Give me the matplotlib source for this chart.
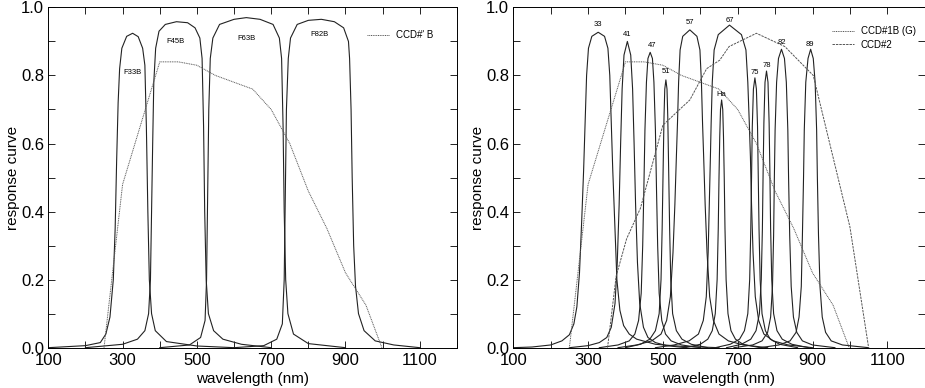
import matplotlib
matplotlib.use('Agg')
import matplotlib.pyplot as plt
from matplotlib.ticker import MultipleLocator, FixedLocator

plt.rcParams['font.family'] = ['Liberation Sans', 'DejaVu Sans']

# ---- left panel: broad filters (wavelength nm, response) ----
f33b_wl = [100, 200, 240, 255, 266, 275, 280, 284, 288, 292, 298, 311, 327, 342, 354, 360, 364, 368, 372, 378, 388, 418, 500, 600]
f33b_r  = [0.0, 0.006, 0.015, 0.04, 0.09, 0.2, 0.35, 0.55, 0.72, 0.82, 0.88, 0.915, 0.924, 0.914, 0.88, 0.83, 0.65, 0.4, 0.2, 0.1, 0.05, 0.018, 0.005, 0.0]

f45b_wl = [200, 300, 340, 360, 370, 375, 378, 381, 384, 389, 398, 415, 445, 475, 495, 508, 514, 518, 521, 525, 531, 545, 570, 620, 700]
f45b_r  = [0.0, 0.01, 0.025, 0.05, 0.1, 0.2, 0.4, 0.6, 0.78, 0.88, 0.93, 0.95, 0.958, 0.955, 0.94, 0.91, 0.85, 0.65, 0.4, 0.2, 0.1, 0.05, 0.025, 0.01, 0.0]

f63b_wl = [400, 480, 510, 522, 526, 529, 532, 536, 543, 561, 600, 633, 670, 705, 722, 728, 732, 735, 739, 745, 760, 800, 900]
f63b_r  = [0.0, 0.008, 0.03, 0.08, 0.2, 0.45, 0.7, 0.85, 0.91, 0.95, 0.965, 0.97, 0.965, 0.95, 0.91, 0.85, 0.65, 0.4, 0.2, 0.1, 0.04, 0.012, 0.0]

f82b_wl = [600, 680, 715, 730, 735, 738, 741, 746, 752, 770, 800, 835, 870, 895, 908, 911, 915, 918, 922, 927, 935, 950, 980, 1030, 1100]
f82b_r  = [0.0, 0.006, 0.025, 0.07, 0.2, 0.45, 0.7, 0.85, 0.91, 0.95, 0.962, 0.965, 0.958, 0.94, 0.9, 0.85, 0.7, 0.5, 0.3, 0.18, 0.1, 0.05, 0.02, 0.008, 0.0]

left_filters = [(f33b_wl, f33b_r), (f45b_wl, f45b_r), (f63b_wl, f63b_r), (f82b_wl, f82b_r)]
left_names = ['F33B', 'F45B', 'F63B', 'F82B']
left_label_x = [328, 443, 633, 830]
left_label_y = [0.81, 0.90, 0.91, 0.92]

# ---- CCD curves ----
ccd1_wl = [250, 300, 400, 450, 500, 550, 650, 700, 750, 800, 850, 900, 955, 998]
ccd1_r  = [0.0, 0.48, 0.84, 0.84, 0.83, 0.80, 0.76, 0.70, 0.60, 0.46, 0.35, 0.22, 0.125, 0.0]

ccd2_wl = [352, 375, 403, 440, 500, 572, 617, 652, 677, 750, 826, 902, 1000, 1050]
ccd2_r  = [0.0, 0.21, 0.32, 0.41, 0.654, 0.728, 0.82, 0.845, 0.885, 0.924, 0.885, 0.80, 0.355, 0.0]

# ---- right panel: narrower filters ----
n33_wl = [100, 150, 200, 230, 250, 262, 270, 277, 283, 288, 292, 296, 301, 310, 327, 344, 353, 358, 362, 366, 371, 377, 385, 395, 410, 430, 480, 550, 650]
n33_r  = [0.0, 0.002, 0.008, 0.02, 0.038, 0.07, 0.12, 0.22, 0.375, 0.52, 0.66, 0.8, 0.88, 0.915, 0.927, 0.915, 0.88, 0.8, 0.66, 0.52, 0.375, 0.2, 0.11, 0.065, 0.04, 0.025, 0.01, 0.004, 0.0]

n41_wl = [250, 300, 330, 350, 362, 372, 378, 383, 387, 391, 396, 405, 414, 419, 423, 427, 432, 438, 448, 460, 480, 510, 560]
n41_r  = [0.0, 0.006, 0.015, 0.03, 0.06, 0.13, 0.25, 0.42, 0.6, 0.76, 0.86, 0.90, 0.86, 0.76, 0.6, 0.42, 0.25, 0.13, 0.06, 0.03, 0.015, 0.006, 0.0]

n47_wl = [330, 380, 410, 425, 435, 442, 446, 449, 452, 456, 460, 466, 472, 476, 480, 483, 486, 490, 497, 507, 522, 550, 600]
n47_r  = [0.0, 0.008, 0.02, 0.04, 0.08, 0.16, 0.3, 0.46, 0.64, 0.78, 0.85, 0.868, 0.85, 0.78, 0.64, 0.46, 0.3, 0.16, 0.08, 0.04, 0.02, 0.008, 0.0]

n51_wl = [400, 440, 465, 480, 490, 495, 498, 501, 503, 505, 508, 511, 513, 515, 518, 521, 526, 536, 551, 576, 620]
n51_r  = [0.0, 0.01, 0.025, 0.05, 0.1, 0.2, 0.35, 0.55, 0.68, 0.76, 0.787, 0.76, 0.68, 0.55, 0.35, 0.2, 0.1, 0.05, 0.025, 0.01, 0.0]

n57_wl = [380, 430, 470, 495, 510, 520, 527, 532, 536, 539, 542, 546, 553, 572, 591, 599, 603, 606, 609, 613, 618, 625, 635, 650, 675, 715, 780]
n57_r  = [0.0, 0.008, 0.02, 0.04, 0.08, 0.15, 0.28, 0.42, 0.56, 0.66, 0.78, 0.875, 0.915, 0.934, 0.915, 0.875, 0.78, 0.66, 0.56, 0.42, 0.28, 0.15, 0.08, 0.04, 0.02, 0.008, 0.0]

n67_wl = [480, 530, 570, 595, 608, 616, 621, 624, 627, 629, 632, 637, 648, 678, 710, 722, 727, 731, 734, 737, 741, 747, 756, 770, 795, 835, 900]
n67_r  = [0.0, 0.008, 0.02, 0.04, 0.08, 0.15, 0.28, 0.42, 0.56, 0.66, 0.78, 0.875, 0.92, 0.948, 0.92, 0.875, 0.78, 0.66, 0.56, 0.42, 0.28, 0.15, 0.08, 0.04, 0.02, 0.008, 0.0]

nha_wl = [560, 600, 620, 632, 640, 645, 648, 650, 652, 654, 657, 660, 662, 664, 666, 669, 674, 682, 694, 714, 760]
nha_r  = [0.0, 0.01, 0.025, 0.05, 0.1, 0.2, 0.35, 0.5, 0.62, 0.7, 0.728, 0.7, 0.62, 0.5, 0.35, 0.2, 0.1, 0.05, 0.025, 0.01, 0.0]

n75_wl = [640, 680, 705, 718, 727, 732, 735, 737, 739, 742, 746, 750, 753, 755, 757, 760, 765, 774, 787, 812, 860]
n75_r  = [0.0, 0.01, 0.025, 0.05, 0.1, 0.2, 0.35, 0.5, 0.65, 0.76, 0.793, 0.76, 0.65, 0.5, 0.35, 0.2, 0.1, 0.05, 0.025, 0.01, 0.0]

n78_wl = [670, 710, 735, 749, 758, 763, 766, 768, 770, 773, 777, 781, 784, 786, 788, 791, 796, 805, 819, 845, 890]
n78_r  = [0.0, 0.01, 0.025, 0.05, 0.1, 0.2, 0.35, 0.52, 0.66, 0.78, 0.813, 0.78, 0.66, 0.52, 0.35, 0.2, 0.1, 0.05, 0.025, 0.01, 0.0]

n82_wl = [690, 740, 765, 780, 788, 793, 796, 798, 800, 804, 809, 817, 825, 830, 834, 836, 839, 843, 849, 858, 873, 900, 960]
n82_r  = [0.0, 0.008, 0.02, 0.045, 0.09, 0.18, 0.33, 0.5, 0.64, 0.78, 0.85, 0.877, 0.85, 0.78, 0.64, 0.5, 0.33, 0.18, 0.09, 0.045, 0.02, 0.008, 0.0]

n89_wl = [760, 810, 840, 856, 864, 870, 873, 876, 878, 882, 888, 895, 902, 907, 911, 913, 916, 920, 926, 935, 950, 980, 1050]
n89_r  = [0.0, 0.008, 0.02, 0.045, 0.09, 0.18, 0.33, 0.5, 0.64, 0.78, 0.85, 0.877, 0.85, 0.78, 0.64, 0.5, 0.33, 0.18, 0.09, 0.045, 0.02, 0.008, 0.0]

right_filters = [(n33_wl, n33_r), (n41_wl, n41_r), (n47_wl, n47_r), (n51_wl, n51_r),
                 (n57_wl, n57_r), (n67_wl, n67_r), (nha_wl, nha_r), (n75_wl, n75_r),
                 (n78_wl, n78_r), (n82_wl, n82_r), (n89_wl, n89_r)]
right_names = ['33', '41', '47', '51', '57', '67', 'Ha', '75', '78', '82', '89']
right_label_x = [327, 405, 470, 508, 572, 678, 657, 746, 779, 818, 893]
right_label_y = [0.951, 0.919, 0.887, 0.813, 0.956, 0.963, 0.745, 0.808, 0.828, 0.896, 0.89]

fig = plt.figure(figsize=(9.25, 3.88), dpi=100)
ax1 = fig.add_axes([0.0522, 0.1039, 0.4418, 0.877])
ax2 = fig.add_axes([0.5549, 0.1039, 0.4448, 0.877])

fcol = '#222222'
ccol = '#555555'

def style(ax):
    ax.set_xlim(100, 1200)
    ax.set_ylim(0, 1.0)
    ax.xaxis.set_major_locator(FixedLocator([100, 300, 500, 700, 900, 1100]))
    ax.xaxis.set_minor_locator(FixedLocator([200, 400, 600, 800, 1000, 1200]))
    ax.yaxis.set_major_locator(MultipleLocator(0.2))
    ax.yaxis.set_minor_locator(MultipleLocator(0.1))
    ax.yaxis.set_major_formatter(plt.FormatStrFormatter('%.1f'))
    ax.tick_params(which='both', direction='in', top=True, right=True, labelsize=12, width=0.6)
    ax.tick_params(which='major', length=5)
    ax.tick_params(axis='x', which='major', pad=4)
    ax.tick_params(axis='y', which='major', pad=3)
    ax.tick_params(which='minor', length=5)
    for s in ax.spines.values():
        s.set_linewidth(0.7)
    ax.set_xlabel('wavelength (nm)', fontsize=11, labelpad=3)
    ax.set_ylabel('response curve', fontsize=11, labelpad=1)

for wl, r in left_filters:
    ax1.plot(wl, r, color=fcol, lw=0.8)
for name, x, y in zip(left_names, left_label_x, left_label_y):
    ax1.text(x, y, name, fontsize=5.5, ha='center', va='center')
ax1.plot(ccd1_wl, ccd1_r, color=ccol, lw=0.7, ls=(0, (1, 0.8)), label="CCD#' B")
style(ax1)
ax1.legend(loc='center left', bbox_to_anchor=(0.779, 0.919), frameon=False, fontsize=7,
           handlelength=2.3, handletextpad=0.7, borderpad=0, borderaxespad=0)

for wl, r in right_filters:
    ax2.plot(wl, r, color=fcol, lw=0.8)
for name, x, y in zip(right_names, right_label_x, right_label_y):
    ax2.text(x, y, name, fontsize=5.5, ha='center', va='center')
ax2.plot(ccd1_wl, ccd1_r, color=ccol, lw=0.7, ls=(0, (1, 0.8)), label='CCD#1B (G)')
ax2.plot(ccd2_wl, ccd2_r, color=ccol, lw=0.7, ls=(0, (2.5, 1)), label='CCD#2')
style(ax2)
ax2.legend(loc='upper left', bbox_to_anchor=(0.774, 0.945), frameon=False, fontsize=7,
           handlelength=2.3, handletextpad=0.7, borderpad=0, borderaxespad=0, labelspacing=0.35)

fig.savefig('out.png', dpi=100)
